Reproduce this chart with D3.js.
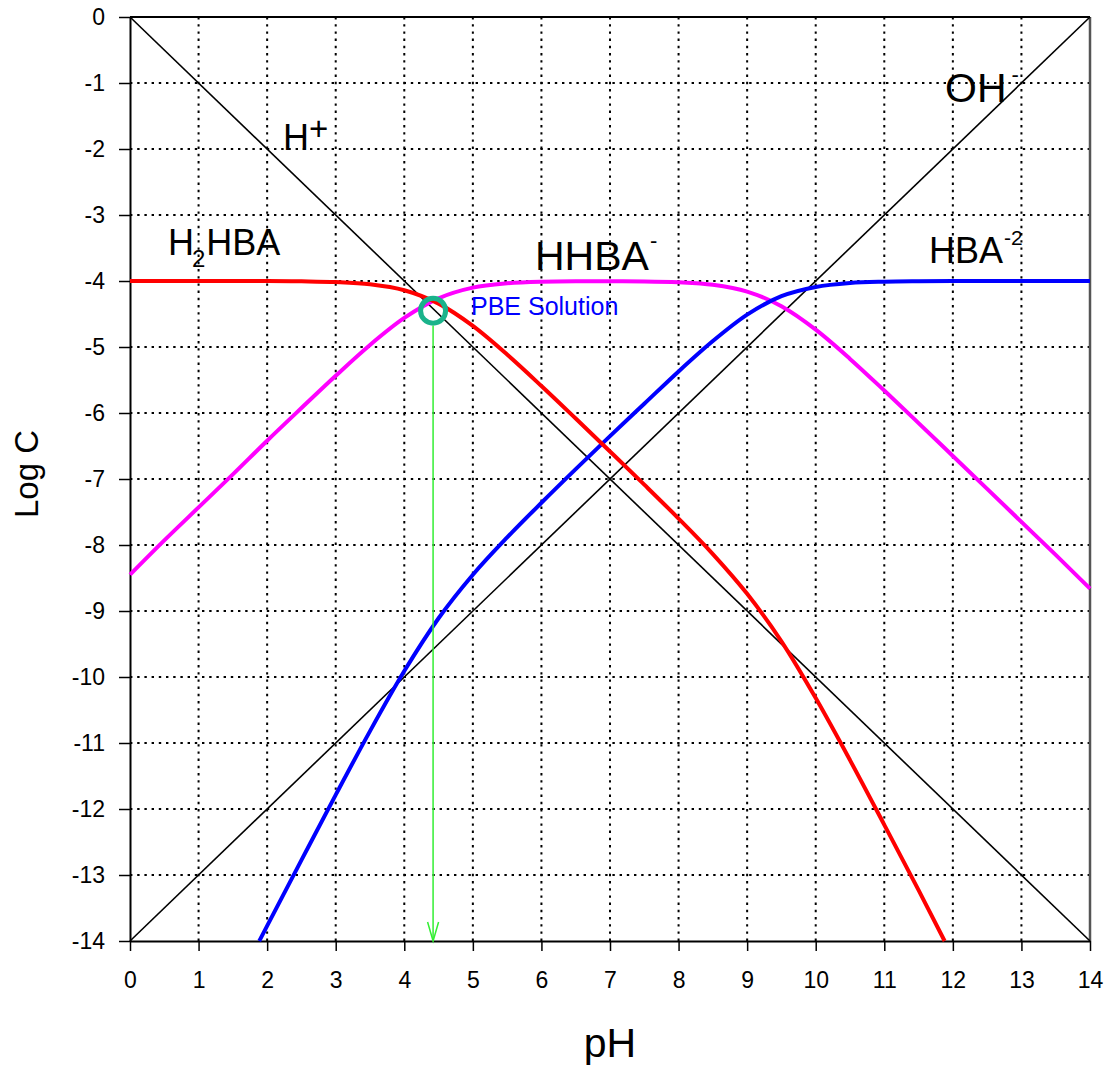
<!DOCTYPE html>
<html>
<head>
<meta charset="utf-8">
<script src="https://cdn.jsdelivr.net/npm/d3@7"></script>
<style>
  html, body { margin: 0; padding: 0; background: #fff; }
  svg { display: block; font-family: "Liberation Sans", Arial, sans-serif; }
</style>
</head>
<body>
<svg id="chart" width="1110" height="1069"></svg>
<script>
// ---- data ----
const xTicks = [0, 1, 2, 3, 4, 5, 6, 7, 8, 9, 10, 11, 12, 13, 14];
const yTicks = [0, -1, -2, -3, -4, -5, -6, -7, -8, -9, -10, -11, -12, -13, -14];

// H2HBA (red)  [pH, log C]
const h2hba = [[0,-4.00],[0.5,-4.00],[1,-4.00],[1.5,-4.00],[2,-4.00],[2.5,-4.005],[3,-4.016],[3.5,-4.049],
  [4,-4.14],[4.5,-4.343],[5,-4.681],[5.5,-5.115],[6,-5.591],[6.5,-6.084],[7,-6.583],[7.5,-7.086],
  [8,-7.599],[8.5,-8.137],[9,-8.74],[9.5,-9.46],[10,-10.32],[10.5,-11.26],[11,-12.24],[11.5,-13.23],[11.88,-14.0]];

// HHBA- (magenta)
const hhba = [[0,-8.45],[0.5,-7.93],[1,-7.43],[1.5,-6.93],[2,-6.42],[2.5,-5.925],[3,-5.436],[3.5,-4.969],
  [4,-4.56],[4.5,-4.263],[5,-4.101],[5.5,-4.035],[6,-4.011],[6.5,-4.004],[7,-4.003],[7.5,-4.006],
  [8,-4.019],[8.5,-4.057],[9,-4.16],[9.5,-4.383],[10,-4.738],[10.5,-5.18],[11,-5.66],[11.5,-6.153],
  [12,-6.651],[12.5,-7.15],[13,-7.65],[13.5,-8.15],[14,-8.66]];

// HBA-2 (blue)
const hba2 = [[1.885,-14.0],[2,-13.77],[2.5,-12.775],[3,-11.786],[3.5,-10.82],[4,-9.91],[4.5,-9.11],
  [5,-8.45],[5.5,-7.885],[6,-7.36],[6.5,-6.85],[7,-6.35],[7.5,-5.86],[8,-5.37],[8.5,-4.91],[9,-4.51],
  [9.5,-4.23],[10,-4.09],[10.5,-4.03],[11,-4.01],[11.5,-4.003],[12,-4.0],[12.5,-4.0],[13,-4.0],[13.5,-4.0],[14,-4.0]];

// H+ and OH- lines
const hPlus = [[0,0],[14,-14]];
const ohMinus = [[0,-14],[14,0]];

// PBE solution point
const pbe = [4.42, -4.45];

// ---- layout ----
const svg = d3.select("#chart");
const X0 = 130, X1 = 1090, Y0 = 17, Y1 = 941;
const x = d3.scaleLinear().domain([0, 14]).range([X0, X1]);
const y = d3.scaleLinear().domain([0, -14]).range([Y0, Y1]);

// grid
const grid = svg.append("g");
grid.selectAll("line.h").data(yTicks.slice(1, -1)).enter().append("line")
  .attr("x1", X0).attr("x2", X1).attr("y1", d => y(d)).attr("y2", d => y(d))
  .attr("stroke", "#000").attr("stroke-width", 2).attr("stroke-dasharray", "2.4 4.8");
grid.selectAll("line.v").data(xTicks.slice(1, -1)).enter().append("line")
  .attr("y1", Y0).attr("y2", Y1).attr("x1", d => x(d)).attr("x2", d => x(d))
  .attr("stroke", "#000").attr("stroke-width", 2).attr("stroke-dasharray", "2.4 4.8");

// axes
const fmt = d => String(d);
const xAxis = d3.axisBottom(x).tickValues(xTicks).tickFormat(fmt)
  .tickSize(10).tickSizeOuter(0).tickPadding(21);
const gx = svg.append("g").attr("transform", `translate(0,${Y1})`).call(xAxis);
gx.select(".domain").attr("stroke-width", 2);
gx.selectAll(".tick line").attr("stroke-width", 1.5);
gx.selectAll(".tick text").attr("font-size", 23).attr("font-family", "Liberation Sans, Arial, sans-serif").attr("fill", "#000");

const yAxis = d3.axisLeft(y).tickValues(yTicks).tickFormat(fmt)
  .tickSize(11).tickSizeOuter(0).tickPadding(14);
const gy = svg.append("g").attr("transform", `translate(${X0},0)`).call(yAxis);
gy.select(".domain").attr("stroke-width", 2);
gy.selectAll(".tick line").attr("stroke-width", 1.5);
gy.selectAll(".tick text").attr("font-size", 23).attr("font-family", "Liberation Sans, Arial, sans-serif").attr("fill", "#000");

// frame top/right
svg.append("line").attr("x1", X0).attr("x2", X1).attr("y1", Y0).attr("y2", Y0)
  .attr("stroke", "#000").attr("stroke-width", 2);
svg.append("line").attr("x1", X1).attr("x2", X1).attr("y1", Y0).attr("y2", Y1)
  .attr("stroke", "#555").attr("stroke-width", 2.5);

// lines
const straight = d3.line().x(d => x(d[0])).y(d => y(d[1]));
const smooth = d3.line().x(d => x(d[0])).y(d => y(d[1])).curve(d3.curveMonotoneX);

svg.append("path").datum(hPlus).attr("d", straight).attr("fill", "none").attr("stroke", "#000").attr("stroke-width", 1.6);
svg.append("path").datum(ohMinus).attr("d", straight).attr("fill", "none").attr("stroke", "#000").attr("stroke-width", 1.6);

svg.append("path").datum(hhba).attr("d", smooth).attr("fill", "none").attr("stroke", "#ff00ff").attr("stroke-width", 4);
svg.append("path").datum(hba2).attr("d", smooth).attr("fill", "none").attr("stroke", "#0000ff").attr("stroke-width", 4);
svg.append("path").datum(h2hba).attr("d", smooth).attr("fill", "none").attr("stroke", "#ff0000").attr("stroke-width", 4);

// PBE circle + arrow
const cx = x(pbe[0]), cy = y(pbe[1]);
svg.append("circle").attr("cx", cx).attr("cy", cy).attr("r", 12.5)
  .attr("fill", "none").attr("stroke", "#1ab38b").attr("stroke-width", 5);
svg.append("line").attr("x1", cx).attr("x2", cx).attr("y1", cy + 15).attr("y2", y(-14))
  .attr("stroke", "#33ee33").attr("stroke-width", 1.5);
svg.append("path")
  .attr("d", `M${cx - 5.5},${y(-14) - 19} L${cx},${y(-14)} L${cx + 5.5},${y(-14) - 19}`)
  .attr("fill", "none").attr("stroke", "#33ee33").attr("stroke-width", 1.5);

// labels
const lab = svg.append("g").attr("fill", "#000");

const hp = lab.append("text").attr("x", 283).attr("y", 150).attr("font-size", 36);
hp.append("tspan").text("H");
hp.append("tspan").attr("dy", -10).attr("font-size", 33).text("+");

const h2 = lab.append("text").attr("x", 168).attr("y", 255).attr("font-size", 36);
h2.append("tspan").text("H");
h2.append("tspan").attr("dx", -2).attr("dy", 12).attr("font-size", 24).text("2");
h2.append("tspan").attr("dx", 1).attr("dy", -12).text("HBA");

const hh = lab.append("text").attr("x", 535).attr("y", 270).attr("font-size", 41);
hh.append("tspan").text("HHBA");
hh.append("tspan").attr("dx", 1).attr("dy", -22).attr("font-size", 22).text("-");

const oh = lab.append("text").attr("x", 945).attr("y", 102).attr("font-size", 41);
oh.append("tspan").text("OH");
oh.append("tspan").attr("dx", 5).attr("dy", -20).attr("font-size", 22).text("-");

const hb = lab.append("text").attr("x", 929).attr("y", 263).attr("font-size", 36);
hb.append("tspan").text("HBA");
hb.append("tspan").attr("dx", 1).attr("dy", -18).attr("font-size", 21).text("-2");

lab.append("text").attr("x", 471).attr("y", 315).attr("font-size", 25).attr("fill", "#0000ff").text("PBE Solution");

// axis titles
lab.append("text").attr("x", 610).attr("y", 1057).attr("text-anchor", "middle").attr("font-size", 41).text("pH");
lab.append("text").attr("transform", "translate(38,474) rotate(-90)").attr("text-anchor", "middle")
  .attr("font-size", 33).text("Log C");
</script>
</body>
</html>
